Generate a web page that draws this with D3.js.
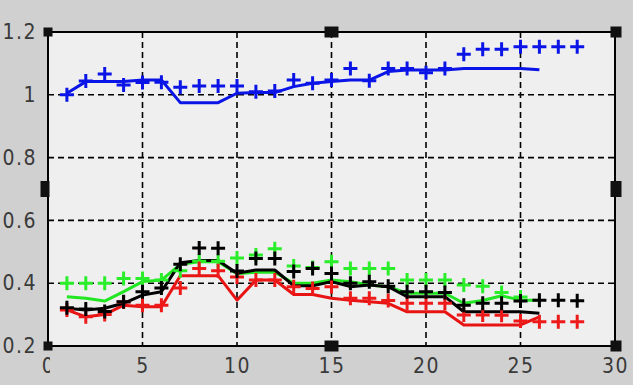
<!DOCTYPE html>
<html>
<head>
<meta charset="utf-8">
<script src="https://cdn.jsdelivr.net/npm/d3@7"></script>
<style>
  html, body { margin: 0; padding: 0; background: #d0d0d0; }
  svg { display: block; }
  .tick text { font-family: "DejaVu Sans Condensed", "DejaVu Sans", sans-serif; font-stretch: condensed; font-size: 21px; fill: #3a3a3a; letter-spacing: 1.5px; }
</style>
</head>
<body>
<svg id="chart" width="633" height="385"></svg>
<script>
// Tick values and their printed labels
const xTicks = [0, 5, 10, 15, 20, 25, 30];
const yTicks = [0.2, 0.4, 0.6, 0.8, 1, 1.2];
const yTickLabels = ["0.2", "0.4", "0.6", "0.8", "1", "1.2"];

// Measured points (markers), one value per step starting at step 1
const blueMarks  = [1.00, 1.044, 1.066, 1.031, 1.039, 1.04, 1.024, 1.028, 1.028, 1.028, 1.01, 1.012, 1.047, 1.037,
                    1.047, 1.084, 1.045, 1.084, 1.084, 1.07, 1.084, 1.129, 1.145, 1.145, 1.153, 1.153, 1.153, 1.153];
const greenMarks = [0.40, 0.40, 0.40, 0.415, 0.415, 0.41, 0.44, 0.47, 0.47, 0.48, 0.49, 0.51, 0.455, 0.45,
                    0.468, 0.447, 0.447, 0.447, 0.41, 0.41, 0.41, 0.394, 0.39, 0.37, 0.356];
const redMarks   = [0.315, 0.293, 0.30, 0.34, 0.33, 0.33, 0.385, 0.447, 0.44, 0.42, 0.41, 0.41, 0.389, 0.383,
                    0.389, 0.352, 0.352, 0.345, 0.336, 0.336, 0.336, 0.299, 0.299, 0.298, 0.28, 0.277, 0.277, 0.277];
const blackMarks = [0.322, 0.318, 0.31, 0.341, 0.373, 0.385, 0.46, 0.512, 0.511, 0.439, 0.479, 0.479, 0.437, 0.447,
                    0.431, 0.40, 0.405, 0.39, 0.373, 0.373, 0.37, 0.33, 0.336, 0.336, 0.343, 0.346, 0.346, 0.344];

// Fitted curves, one value per step from step 1 to step 26
const blueLine  = [1.005, 1.042, 1.042, 1.042, 1.047, 1.047, 0.975, 0.975, 0.975, 1.005, 1.007, 1.007, 1.026,
                   1.037, 1.042, 1.047, 1.047, 1.074, 1.079, 1.079, 1.079, 1.084, 1.084, 1.084, 1.084, 1.08];
const greenLine = [0.357, 0.352, 0.343, 0.373, 0.405, 0.41, 0.46, 0.468, 0.468, 0.43, 0.435, 0.435, 0.40,
                   0.40, 0.41, 0.405, 0.394, 0.389, 0.368, 0.368, 0.368, 0.336, 0.345, 0.36, 0.346, 0.346];
const blackLine = [0.32, 0.315, 0.32, 0.336, 0.362, 0.373, 0.465, 0.472, 0.472, 0.432, 0.442, 0.442, 0.392,
                   0.392, 0.405, 0.389, 0.394, 0.389, 0.357, 0.357, 0.357, 0.309, 0.309, 0.309, 0.309, 0.304];
const redLine   = [0.315, 0.293, 0.30, 0.33, 0.325, 0.325, 0.424, 0.424, 0.424, 0.346, 0.41, 0.41, 0.364,
                   0.364, 0.352, 0.346, 0.341, 0.336, 0.309, 0.309, 0.309, 0.267, 0.267, 0.267, 0.267, 0.293];

const svg = d3.select("#chart");
const x = d3.scaleLinear().domain([0, 30]).range([48, 615]);
const y = d3.scaleLinear().domain([0.2, 1.2]).range([346, 32]);
const [x0, x1] = x.range();
const [y0, y1] = y.range();

// Plot area
svg.append("rect")
  .attr("x", x0).attr("y", y1)
  .attr("width", x1 - x0).attr("height", y0 - y1)
  .attr("fill", "#efefef");

// Dashed grid
const grid = svg.append("g").attr("stroke", "#000").attr("stroke-width", 1.6)
  .attr("stroke-dasharray", "6,4");
grid.selectAll("line.v").data(xTicks.filter(d => d > 0 && d < 30)).join("line")
  .attr("x1", d => x(d)).attr("x2", d => x(d))
  .attr("y1", y1).attr("y2", y0);
grid.selectAll("line.h").data(yTicks.filter(d => d > 0.2 && d < 1.2)).join("line")
  .attr("x1", x0).attr("x2", x1)
  .attr("y1", d => y(d)).attr("y2", d => y(d));

// Axes (labels only; the frame is drawn separately)
const yAxis = svg.append("g")
  .attr("transform", `translate(${x0 - 8},0)`)
  .call(d3.axisLeft(y).tickValues(yTicks).tickSize(0)
    .tickFormat((d, i) => yTickLabels[i]));
yAxis.select(".domain").remove();

const xAxis = svg.append("g")
  .attr("transform", `translate(0,${y0 + 9})`)
  .call(d3.axisBottom(x).tickValues(xTicks).tickSize(0).tickFormat(d3.format("d")));
xAxis.select(".domain").remove();

// The "0" label loses its right edge behind the corner handle
const zeroTick = xAxis.selectAll(".tick").filter(d => d === 0);
zeroTick.append("clipPath").attr("id", "zeroClip")
  .append("rect").attr("x", -30).attr("y", -10).attr("width", 31.5).attr("height", 50);
zeroTick.select("text").attr("clip-path", "url(#zeroClip)");

// Frame
svg.append("rect")
  .attr("x", x0).attr("y", y1)
  .attr("width", x1 - x0).attr("height", y0 - y1)
  .attr("fill", "none").attr("stroke", "#000").attr("stroke-width", 2);

// Curves
const line = d3.line().x((d, i) => x(i + 1)).y(d => y(d));
const curves = [
  { data: blueLine, color: "#0a14e6" },
  { data: redLine, color: "#e81414" },
  { data: greenLine, color: "#22e622" },
  { data: blackLine, color: "#000000" }
];
svg.append("g").selectAll("path").data(curves).join("path")
  .attr("d", c => line(c.data))
  .attr("fill", "none")
  .attr("stroke", c => c.color)
  .attr("stroke-width", 3)
  .attr("stroke-linejoin", "round");

// Plus markers
const markSets = [
  { data: blueMarks, color: "#0a14e6" },
  { data: greenMarks, color: "#2aee2a" },
  { data: redMarks, color: "#ee1a1a" },
  { data: blackMarks, color: "#000000" }
];
const h = 7;
markSets.forEach(s => {
  const g = svg.append("g").attr("stroke", s.color).attr("stroke-width", 3);
  g.selectAll("path").data(s.data).join("path")
    .attr("d", (d, i) => {
      const cx = x(i + 1), cy = y(d);
      return `M${cx - h},${cy}H${cx + h}M${cx},${cy - h}V${cy + h}`;
    });
});

// Selection handles at corners and edge midpoints
const xm = (x0 + x1) / 2, ym = (y0 + y1) / 2;
const handles = [
  [x0, y1, 9, 9], [xm, y1, 14, 11], [x1 + 1, y1, 11, 11],
  [x0 - 3, ym, 9, 16], [x1 + 1, ym, 11, 16],
  [x0, y0, 9, 9], [xm, y0, 14, 11], [x1 + 1, y0, 11, 11]
];
svg.append("g").selectAll("rect").data(handles).join("rect")
  .attr("x", d => d[0] - d[2] / 2).attr("y", d => d[1] - d[3] / 2)
  .attr("width", d => d[2]).attr("height", d => d[3])
  .attr("fill", "#111");
</script>
</body>
</html>
